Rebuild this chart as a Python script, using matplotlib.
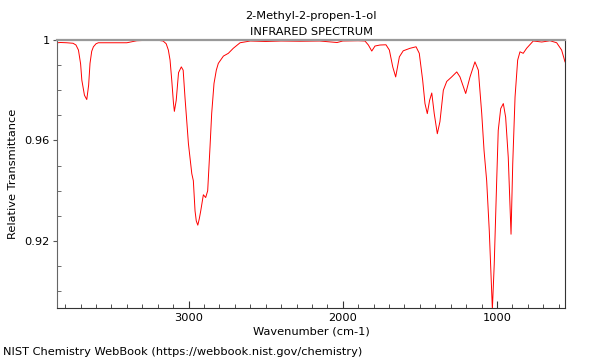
import matplotlib
matplotlib.use("Agg")
import matplotlib.pyplot as plt
from matplotlib.ticker import MultipleLocator, FixedLocator

###############################################
# Data
###############################################

wavenumber = [3852, 3830, 3790, 3749, 3730, 3714, 3700, 3692, 3675, 3660,
              3648, 3639, 3628, 3617, 3600, 3585, 3500, 3400, 3336, 3300,
              3250, 3200, 3165, 3145, 3131, 3120, 3109, 3098, 3092, 3080,
              3065, 3047, 3035, 3023, 3012, 3001, 2979, 2969, 2958, 2950,
              2940, 2930, 2921, 2904, 2889, 2876, 2861, 2850, 2835, 2820,
              2807, 2774, 2742, 2710, 2666, 2600, 2500, 2400, 2277, 2150,
              2037, 2000, 1900, 1856, 1834, 1812, 1791, 1759, 1720, 1698,
              1676, 1657, 1633, 1608, 1564, 1525, 1504, 1482, 1467, 1452,
              1437, 1423, 1407, 1387, 1370, 1348, 1326, 1294, 1261, 1240,
              1203, 1175, 1143, 1121, 1099, 1084, 1067, 1050, 1030, 1018,
              1002, 992, 976, 959, 944, 927, 909, 898, 883, 866,
              851, 830, 808, 765, 710, 656, 613, 581, 559]

transmittance = [0.9989, 0.9990, 0.9989, 0.9987, 0.9980, 0.9960, 0.9905, 0.9840, 0.9780, 0.9763,
                 0.9820, 0.9907, 0.9955, 0.9973, 0.9985, 0.9989, 0.9989, 0.9989, 0.9997, 0.9998,
                 0.9999, 0.9999, 0.9996, 0.9985, 0.9960, 0.9920, 0.9840, 0.9750, 0.9716, 0.9760,
                 0.9870, 0.9893, 0.9880, 0.9770, 0.9680, 0.9588, 0.9468, 0.9440, 0.9320, 0.9280,
                 0.9263, 0.9290, 0.9320, 0.9384, 0.9373, 0.9400, 0.9573, 0.9708, 0.9827, 0.9880,
                 0.9907, 0.9936, 0.9947, 0.9967, 0.9989, 0.9996, 0.9994, 0.9996, 0.9995, 0.9996,
                 0.9990, 0.9996, 0.9997, 0.9996, 0.9980, 0.9956, 0.9976, 0.9980, 0.9981, 0.9960,
                 0.9893, 0.9853, 0.9933, 0.9957, 0.9967, 0.9973, 0.9947, 0.9840, 0.9747, 0.9707,
                 0.9760, 0.9789, 0.9707, 0.9627, 0.9675, 0.9800, 0.9835, 0.9853, 0.9873, 0.9853,
                 0.9787, 0.9853, 0.9913, 0.9880, 0.9707, 0.9560, 0.9440, 0.9240, 0.8928, 0.9107,
                 0.9440, 0.9640, 0.9727, 0.9747, 0.9693, 0.9533, 0.9227, 0.9507, 0.9773, 0.9920,
                 0.9953, 0.9947, 0.9967, 0.9996, 0.9992, 0.9997, 0.9989, 0.9960, 0.9913]

x_ticks = [3000, 2000, 1000]
y_ticks = [0.92, 0.96, 1.0]
y_tick_labels = ["0.92", "0.96", "1"]

title = "2-Methyl-2-propen-1-ol\nINFRARED SPECTRUM"
footer = "NIST Chemistry WebBook (https://webbook.nist.gov/chemistry)"

###############################################
# Plot
###############################################

FS = 8.2

fig = plt.figure(figsize=(6, 3.6), dpi=100)
ax = fig.add_axes([0.0945, 0.1435, 0.8477, 0.7454])

ax.plot(wavenumber, transmittance, color="#ff0000", lw=0.7)

ax.set_xlim(3855, 557)
ax.set_ylim(0.8932, 1.0)

ax.xaxis.set_major_locator(FixedLocator(x_ticks))
ax.xaxis.set_minor_locator(MultipleLocator(100))
ax.yaxis.set_major_locator(FixedLocator(y_ticks))
ax.set_yticklabels(y_tick_labels)
ax.yaxis.set_minor_locator(MultipleLocator(0.01))

ax.tick_params(axis="x", which="major", direction="in", length=5, width=0.8,
               color="#333333", labelsize=FS, pad=3)
ax.tick_params(axis="x", which="minor", direction="in", length=3, width=0.6,
               color="#333333")
ax.tick_params(axis="y", which="major", direction="out", length=3, width=0.8,
               color="#555555", labelsize=FS, pad=2)
ax.tick_params(axis="y", which="minor", direction="in", length=3, width=0.6,
               color="#555555")

ax.spines["top"].set_color("#999999")
ax.spines["top"].set_linewidth(1.6)
ax.spines["left"].set_color("#666666")
ax.spines["right"].set_color("#333333")
ax.spines["bottom"].set_color("#333333")

ax.set_xlabel("Wavenumber (cm-1)", fontsize=FS, labelpad=3)
ax.set_ylabel("Relative Transmittance", fontsize=FS, labelpad=5)

fig.text(0.519, 0.898, title, ha="center", va="bottom", fontsize=FS,
         linespacing=1.7)
fig.text(0.005, 0.022, footer, ha="left", va="center", fontsize=FS)

fig.savefig("out.png", dpi=100)
